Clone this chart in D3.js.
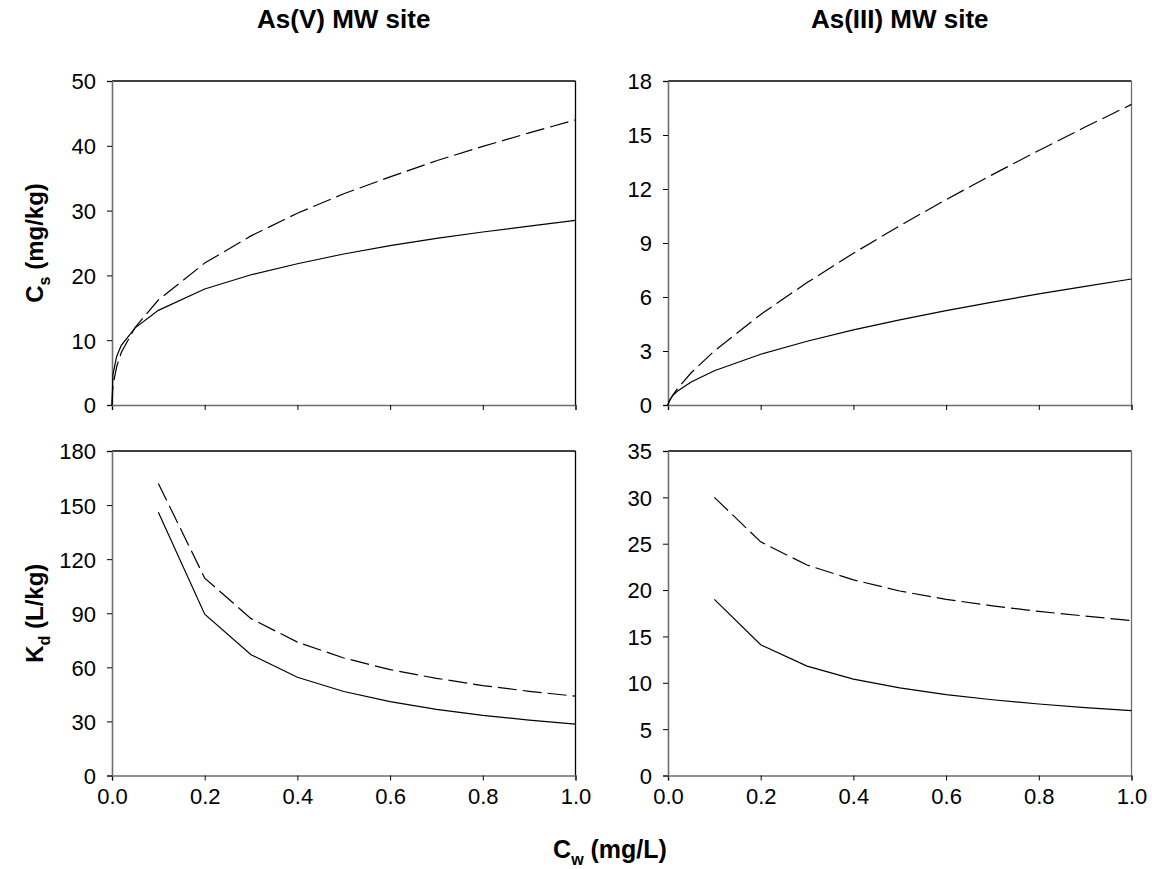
<!DOCTYPE html>
<html>
<head>
<meta charset="utf-8">
<script src="https://cdn.jsdelivr.net/npm/d3@7"></script>
<style>
  body { margin: 0; background: #fff; }
  text { font-family: "Liberation Sans", Arial, sans-serif; }
</style>
</head>
<body>
<div id="chart"></div>
<script>
// sorption isotherms
const cwTop = [0, 0.002, 0.01, 0.02, 0.05, 0.1, 0.2, 0.3, 0.4, 0.5, 0.6, 0.7, 0.8, 0.9, 1.0];
const csV_solid  = [0, 4.7, 7.5, 9.2, 11.9, 14.6, 17.9, 20.1, 21.8, 23.3, 24.6, 25.7, 26.7, 27.6, 28.5];
const csV_dashed = [0, 3.0, 5.9, 8.1, 12.0, 16.2, 21.9, 26.1, 29.6, 32.6, 35.2, 37.7, 39.9, 42.0, 44.0];
const csIII_solid  = [0, 0.21, 0.52, 0.76, 1.28, 1.9, 2.82, 3.54, 4.17, 4.73, 5.24, 5.72, 6.17, 6.59, 7.0];
const csIII_dashed = [0, 0.16, 0.54, 0.90, 1.79, 3.0, 5.03, 6.8, 8.43, 9.96, 11.41, 12.8, 14.14, 15.44, 16.7];

const cwBot = [0.1, 0.2, 0.3, 0.4, 0.5, 0.6, 0.7, 0.8, 0.9, 1.0];
const kdV_solid  = [146, 89.5, 67, 54.5, 46.6, 41, 36.7, 33.4, 30.7, 28.5];
const kdV_dashed = [162, 109.5, 87, 74, 65.2, 58.7, 53.9, 49.9, 46.7, 44];
const kdIII_solid  = [19, 14.1, 11.8, 10.4, 9.46, 8.73, 8.17, 7.71, 7.32, 7.0];
const kdIII_dashed = [30, 25.2, 22.7, 21.1, 19.9, 19.0, 18.3, 17.7, 17.2, 16.7];

const xTicks = [0, 0.2, 0.4, 0.6, 0.8, 1.0];
const yTicksCsV = [0, 10, 20, 30, 40, 50];
const yTicksCsIII = [0, 3, 6, 9, 12, 15, 18];
const yTicksKdV = [0, 30, 60, 90, 120, 150, 180];
const yTicksKdIII = [0, 5, 10, 15, 20, 25, 30, 35];

const titles = ["As(V) MW site", "As(III) MW site"];

const width = 1152, height = 869;
const cols = [[112, 575.5], [668, 1131.5]];
const rows = [[81, 405], [451, 775.5]];

const panels = [
  { c: 0, r: 0, x: cwTop, solid: csV_solid, dashed: csV_dashed, yt: yTicksCsV, xlab: false },
  { c: 1, r: 0, x: cwTop, solid: csIII_solid, dashed: csIII_dashed, yt: yTicksCsIII, xlab: false },
  { c: 0, r: 1, x: cwBot, solid: kdV_solid, dashed: kdV_dashed, yt: yTicksKdV, xlab: true },
  { c: 1, r: 1, x: cwBot, solid: kdIII_solid, dashed: kdIII_dashed, yt: yTicksKdIII, xlab: true }
];

const svg = d3.select("#chart").append("svg")
    .attr("width", width)
    .attr("height", height);

const axisGray = "#6e6e6e";

panels.forEach(p => {
    const [x0, x1] = cols[p.c];
    const [y0, y1] = rows[p.r];
    const x = d3.scaleLinear().domain([0, 1]).range([x0, x1]);
    const y = d3.scaleLinear().domain([0, d3.max(p.yt)]).range([y1, y0]);
    const g = svg.append("g");

    // frame: top and right in black
    g.append("line").attr("x1", x0).attr("x2", x1).attr("y1", y0).attr("y2", y0)
        .attr("stroke", "#000").attr("stroke-width", 1.3);
    g.append("line").attr("x1", x1).attr("x2", x1).attr("y1", y0).attr("y2", y1)
        .attr("stroke", p.c === 0 ? "#000" : axisGray).attr("stroke-width", 1.3);

    const xAxis = g.append("g")
        .attr("transform", `translate(0,${y1})`)
        .call(d3.axisBottom(x).tickValues(xTicks).tickSize(5).tickPadding(8)
            .tickFormat(p.xlab ? d3.format(".1f") : ""));
    const yAxis = g.append("g")
        .attr("transform", `translate(${x0},0)`)
        .call(d3.axisLeft(y).tickValues(p.yt).tickSize(5).tickPadding(11).tickFormat(d3.format("d")));

    [xAxis, yAxis].forEach(a => {
        a.select(".domain").attr("stroke", axisGray).attr("stroke-width", 1.6);
        a.selectAll(".tick line").attr("stroke", "#000").attr("stroke-width", 1);
        a.selectAll(".tick text").attr("font-size", 22)
            .attr("font-family", "'Liberation Sans', Arial, sans-serif").attr("fill", "#000");
    });
    yAxis.selectAll(".tick text").attr("dy", "0.36em");

    const line = d3.line().x((d, i) => x(p.x[i])).y(d => y(d));
    g.append("path").datum(p.solid).attr("d", line)
        .attr("fill", "none").attr("stroke", "#000").attr("stroke-width", 1.2);
    g.append("path").datum(p.dashed).attr("d", line)
        .attr("fill", "none").attr("stroke", "#000").attr("stroke-width", 1.2)
        .attr("stroke-dasharray", "19,6");
});

// column titles
titles.forEach((t, i) => {
    svg.append("text")
        .attr("x", (cols[i][0] + cols[i][1]) / 2)
        .attr("y", 28)
        .attr("text-anchor", "middle")
        .attr("font-size", 26)
        .attr("font-weight", "bold")
        .text(t);
});

// axis titles with subscripts
function labelWithSub(sel, main, sub, rest) {
    sel.append("tspan").text(main);
    sel.append("tspan").attr("font-size", 16).attr("dy", 7).text(sub);
    sel.append("tspan").attr("dy", -7).text(rest);
}

const yLabels = [["C", "s", " (mg/kg)"], ["K", "d", " (L/kg)"]];
yLabels.forEach((l, i) => {
    const cy = (rows[i][0] + rows[i][1]) / 2;
    const t = svg.append("text")
        .attr("transform", `translate(43,${cy}) rotate(-90)`)
        .attr("text-anchor", "middle")
        .attr("font-size", 24)
        .attr("font-weight", "bold");
    labelWithSub(t, l[0], l[1], l[2]);
});

const xl = svg.append("text")
    .attr("x", 610)
    .attr("y", 858)
    .attr("text-anchor", "middle")
    .attr("font-size", 25)
    .attr("font-weight", "bold");
labelWithSub(xl, "C", "w", " (mg/L)");
</script>
</body>
</html>
